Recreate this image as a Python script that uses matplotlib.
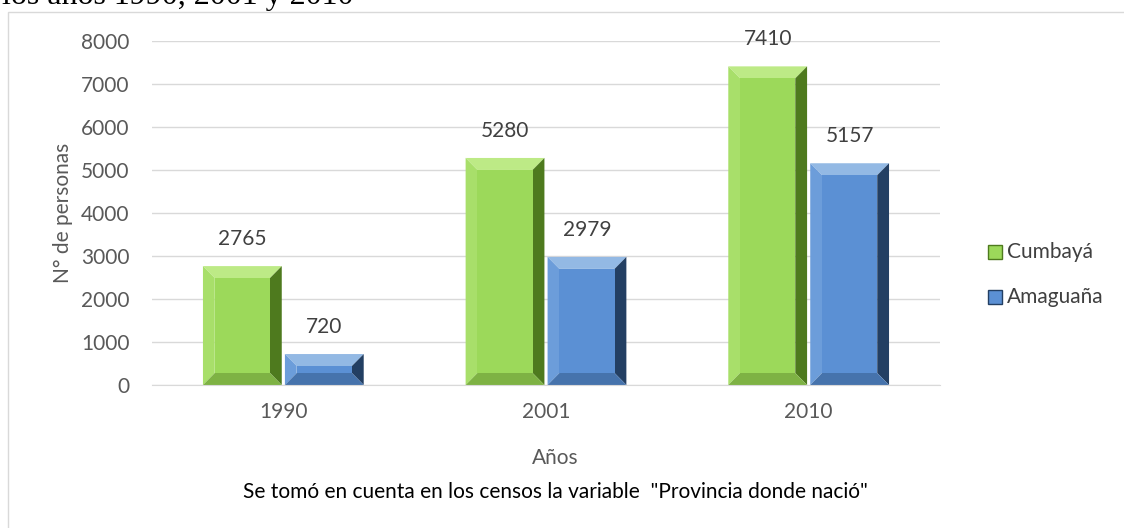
import matplotlib.pyplot as plt
from matplotlib.patches import Polygon, Rectangle
import numpy as np

years = ["1990", "2001", "2010"]
cumbaya = [2765, 5280, 7410]
amaguana = [720, 2979, 5157]
series_names = ["Cumbayá", "Amaguaña"]

plt.rcParams['font.family'] = ['Lato', 'DejaVu Sans']

fig = plt.figure(figsize=(11.24, 5.28), dpi=100)
ax = fig.add_axes([152 / 1124, 1 - 385 / 528, 788 / 1124, 344 / 528])

# bevel colours: face, top, left, right, bottom
green = ['#9CD95A', '#BDEA86', '#A8DF6A', '#4E7A1E', '#7EB244']
blue = ['#5B90D4', '#93B9E4', '#6C9DDA', '#233F63', '#4673AC']

width = 0.30
gap = 0.012
x = np.arange(len(years))
ylim = 8000
bev_x = 0.045
bev_y = ylim * 12 / 344


def bevel_bar(ax, xc, h, cols):
    x0, x1 = xc - width / 2, xc + width / 2
    by = min(bev_y, h / 2)
    bx = bev_x
    ix0, ix1 = x0 + bx, x1 - bx
    iy0, iy1 = by, h - by
    ax.add_patch(Polygon([(x0, h), (x1, h), (ix1, iy1), (ix0, iy1)], color=cols[1], lw=0))
    ax.add_patch(Polygon([(x0, 0), (x0, h), (ix0, iy1), (ix0, iy0)], color=cols[2], lw=0))
    ax.add_patch(Polygon([(x1, 0), (x1, h), (ix1, iy1), (ix1, iy0)], color=cols[3], lw=0))
    ax.add_patch(Polygon([(x0, 0), (x1, 0), (ix1, iy0), (ix0, iy0)], color=cols[4], lw=0))
    ax.add_patch(Rectangle((ix0, iy0), ix1 - ix0, iy1 - iy0, color=cols[0], lw=0))
    ax.text(xc, h + ylim * 17 / 344, f"{h}", ha='center', va='bottom',
            fontsize=15, color='#404040')


for i in range(len(years)):
    bevel_bar(ax, x[i] - width / 2 - gap / 2, cumbaya[i], green)
    bevel_bar(ax, x[i] + width / 2 + gap / 2, amaguana[i], blue)

ax.set_xlim(-0.5, 2.5)
ax.set_ylim(0, ylim)
ax.set_yticks(range(0, 8001, 1000))
ax.set_xticks(x)
ax.set_xticklabels(years)
ax.grid(axis='y', color='#D9D9D9', lw=1)
ax.set_axisbelow(True)
for s in ['top', 'right', 'left']:
    ax.spines[s].set_visible(False)
ax.spines['bottom'].set_color('#D9D9D9')
ax.tick_params(axis='both', length=0, colors='#595959', labelsize=15)
ax.tick_params(axis='y', pad=16)
ax.tick_params(axis='x', pad=12)
ax.set_ylabel("N° de personas", fontsize=15, color='#595959', labelpad=6)

# legend
for j, (name, cols) in enumerate(zip(series_names, [green, blue])):
    ly = 1 - (252 + j * 45) / 528
    lx = 988 / 1124
    s = 14 / 1124
    sh = 14 / 528
    fig.patches.append(Rectangle((lx, ly - sh / 2), s, sh, transform=fig.transFigure,
                                 facecolor=cols[0], edgecolor=cols[3], lw=1))
    fig.text(lx + 19 / 1124, ly, name, fontsize=15, color='#404040', va='center')

fig.text(555 / 1124, 1 - 458 / 528, "Años", ha='center', va='center',
         fontsize=15, color='#595959')
fig.text(555 / 1124, 1 - 492 / 528, 'Se tomó en cuenta en los censos la variable  "Provincia donde nació"',
         ha='center', va='center', fontsize=15, color='black')

# outer chart frame
fig.patches.append(Rectangle((8 / 1124, -0.01), 1.1, 1 - 12 / 528 + 0.01, transform=fig.transFigure,
                             fill=False, edgecolor='#D9D9D9', lw=1))

# clipped title from the document
fig.text(2 / 1124, 1 - 4 / 528, "los años 1990, 2001 y 2010", family='Liberation Serif',
         fontsize=23, va='baseline', ha='left', color='black')

fig.savefig("out.png", dpi=100)
